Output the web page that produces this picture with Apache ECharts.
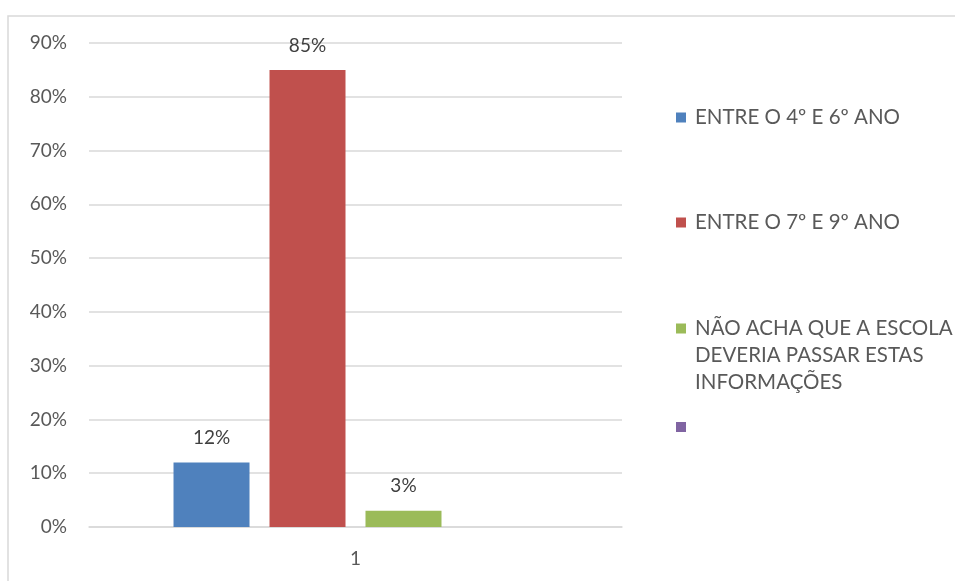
<!DOCTYPE html>
<html>
<head>
<meta charset="utf-8">
<script src="https://cdn.jsdelivr.net/npm/echarts@6/dist/echarts.min.js"></script>
<style>
  html, body { margin: 0; padding: 0; background: #fff; }
  #chart { width: 955px; height: 581px; }
</style>
</head>
<body>
<div id="chart"></div>
<script>
// Category and series data (values in %)
const categories = ['1'];
const seriesNames = [
  'ENTRE O 4º E 6º ANO',
  'ENTRE O 7º E 9º ANO',
  'NÃO ACHA QUE A ESCOLA DEVERIA PASSAR ESTAS INFORMAÇÕES',
  ' '
];
const legendLabels = [
  'ENTRE O 4º E 6º ANO',
  'ENTRE O 7º E 9º ANO',
  'NÃO ACHA QUE A ESCOLA\nDEVERIA PASSAR ESTAS\nINFORMAÇÕES',
  ''
];
const seriesValues = [[12], [85], [3], [null]];
const yTicks = { min: 0, max: 90, interval: 10 };

const colors = ['#4f81bd', '#c0504d', '#9bbb59', '#8064a2'];
const FONT = 'Lato, "Open Sans", sans-serif';
const LINE_H = 27;

const chart = echarts.init(document.getElementById('chart'), null, { renderer: 'canvas' });

// one legend block per series so each entry can sit at its own height
const legendTops = [104, 209, 315, 422];
const legends = seriesNames.map((name, i) => {
  const multi = legendLabels[i].indexOf('\n') >= 0;
  const lines = legendLabels[i].split('\n').length;
  const h = lines * LINE_H;
  const legend = {
    data: [name],
    left: 676,
    top: legendTops[i],
    padding: 0,
    selectedMode: false,
    itemWidth: 10,
    itemHeight: multi ? h : 10,
    itemGap: 0,
    formatter: () => legendLabels[i],
    textStyle: {
      fontFamily: FONT,
      fontSize: 20.5,
      color: '#595959',
      lineHeight: LINE_H,
      padding: [0, 0, 0, 4]
    }
  };
  if (multi) {
    // square aligned with the first text line
    const t = LINE_H / 2 - 5;
    legend.icon = `path://M0,0L10,0M0,${t}L10,${t}L10,${t + 10}L0,${t + 10}ZM0,${h}L10,${h}`;
  } else {
    legend.icon = 'rect';
  }
  return legend;
});

const option = {
  backgroundColor: '#ffffff',
  animation: false,
  color: colors,
  textStyle: { fontFamily: FONT },
  graphic: [{
    type: 'rect',
    left: 5.5,
    top: 13.5,
    shape: { width: 1200, height: 1000 },
    style: { fill: 'none', stroke: '#d9d9d9', lineWidth: 1.5 },
    silent: true,
    z: -1
  }],
  legend: legends,
  grid: { left: 89, right: 333, top: 43, bottom: 54, containLabel: false },
  xAxis: {
    type: 'category',
    data: categories,
    axisLine: { show: true, lineStyle: { color: '#d9d9d9', width: 1.5 } },
    axisTick: { show: false },
    axisLabel: { fontFamily: FONT, fontSize: 19, color: '#595959', margin: 22 }
  },
  yAxis: {
    type: 'value',
    min: yTicks.min,
    max: yTicks.max,
    interval: yTicks.interval,
    axisLine: { show: false },
    axisTick: { show: false },
    splitLine: { lineStyle: { color: '#d9d9d9', width: 1.5 } },
    axisLabel: {
      fontFamily: FONT, fontSize: 19, color: '#595959', margin: 22,
      formatter: '{value}%'
    }
  },
  series: seriesNames.map((name, i) => ({
    name: name,
    type: 'bar',
    data: seriesValues[i],
    barWidth: 76,
    barGap: '26.3%',
    itemStyle: { color: colors[i] },
    label: {
      show: true,
      position: 'top',
      distance: 15,
      fontFamily: FONT,
      fontSize: 19,
      color: '#404040',
      formatter: '{c}%'
    }
  }))
};

chart.setOption(option);
</script>
</body>
</html>
